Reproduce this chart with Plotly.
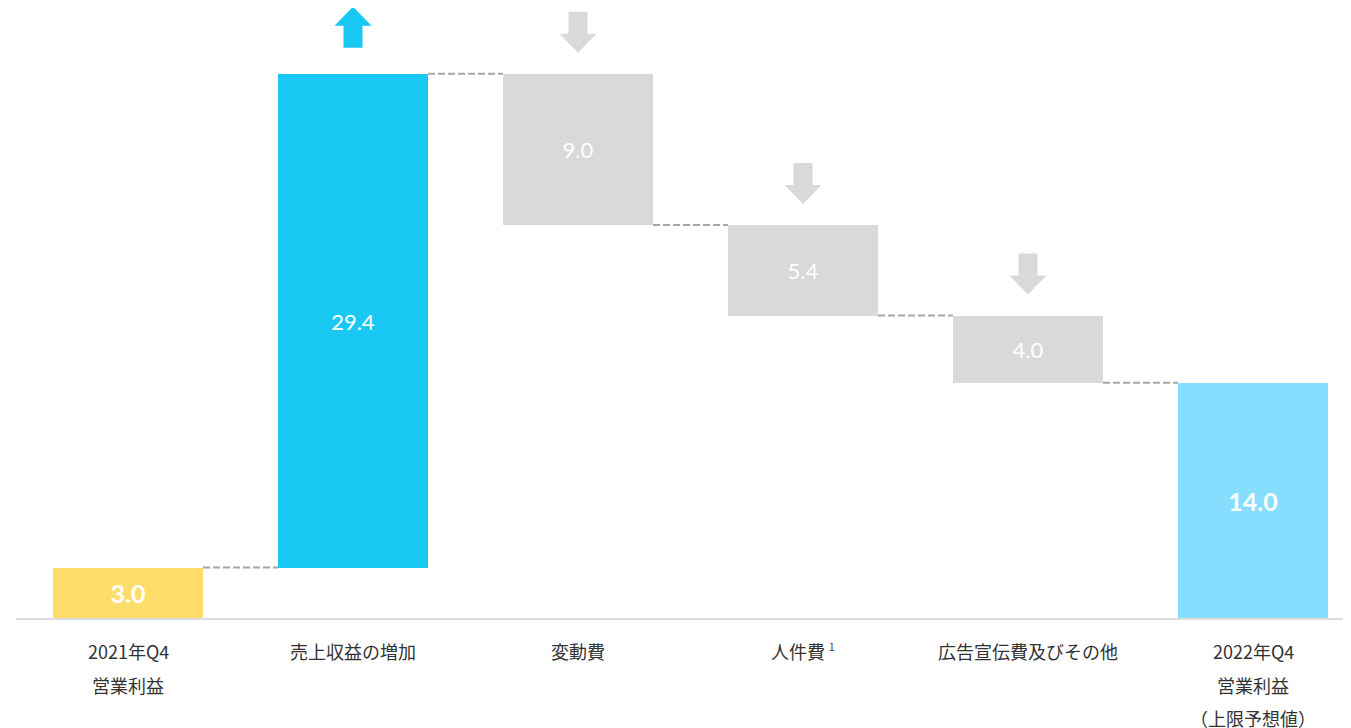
import plotly.graph_objects as go

# ---- data ----
label_lines = [
    ["2021年Q4", "営業利益"],
    ["売上収益の増加"],
    ["変動費"],
    ["人件費 <sup><span style='font-size:10px'>1</span></sup>"],
    ["広告宣伝費及びその他"],
    ["2022年Q4", "営業利益", "（上限予想値）"],
]
start_value = 3.0
changes = [29.4, -9.0, -5.4, -4.0]
end_value = 14.0

# ---- styling ----
C_START = "#FFDD6B"
C_UP = "#19C9F3"
C_DOWN = "#D9D9D9"
C_END = "#86DDFD"
C_CONN = "#A6A6A6"
C_AXIS = "#DCDCDC"
C_TEXT = "#333333"

n = len(label_lines)
xs = list(range(n))
BAR_W = 0.667

bases, heights, colors, levels = [], [], [], []
bases.append(0.0); heights.append(start_value); colors.append(C_START)
level = start_value
levels.append(level)
for c in changes:
    if c >= 0:
        bases.append(level); heights.append(c); colors.append(C_UP)
    else:
        bases.append(level + c); heights.append(-c); colors.append(C_DOWN)
    level = round(level + c, 6)
    levels.append(level)
bases.append(0.0); heights.append(end_value); colors.append(C_END)
levels.append(end_value)

texts = [f"<b>{start_value:.1f}</b>"] + [f"{abs(c):.1f}" for c in changes] + [f"<b>{end_value:.1f}</b>"]
tsizes = [25] + [22] * len(changes) + [25]

fig = go.Figure()
fig.add_trace(go.Bar(
    x=xs, y=heights, base=bases, width=BAR_W,
    marker=dict(color=colors, line=dict(width=0)),
    text=texts, textposition="inside", insidetextanchor="middle",
    textfont=dict(color="white", size=tsizes, family="Lato, Inter, sans-serif"),
    constraintext="none", hoverinfo="skip", showlegend=False,
))

# connectors
for i in range(n - 1):
    lv = levels[i]
    fig.add_trace(go.Scatter(
        x=[xs[i] + BAR_W / 2, xs[i + 1] - BAR_W / 2], y=[lv, lv],
        mode="lines", line=dict(color=C_CONN, width=2, dash="7px,3px"),
        hoverinfo="skip", showlegend=False,
    ))

# arrows above change bars
PX = 16.8          # px per y unit
XPX = 225.0        # px per x unit
sh = 9.5 / XPX     # shaft half width
hh = 18.5 / XPX    # head half width
head_h = 19 / PX
total_h = 41 / PX
shapes = []
for i, c in enumerate(changes, start=1):
    top_of_bar = bases[i] + heights[i]
    x = xs[i]
    if c >= 0:
        b = top_of_bar + 26 / PX
        t = b + total_h
        hb = t - head_h
        path = (f"M {x-sh},{b} L {x+sh},{b} L {x+sh},{hb} L {x+hh},{hb} L {x},{t} "
                f"L {x-hh},{hb} L {x-sh},{hb} Z")
        col = C_UP
    else:
        tip = top_of_bar + 21 / PX
        t = tip + total_h
        hb = tip + head_h
        path = (f"M {x-sh},{t} L {x+sh},{t} L {x+sh},{hb} L {x+hh},{hb} L {x},{tip} "
                f"L {x-hh},{hb} L {x-sh},{hb} Z")
        col = C_DOWN
    shapes.append(dict(type="path", path=path, xref="x", yref="y",
                       fillcolor=col, line=dict(width=0), layer="above"))

# category labels
annotations = []
for i, lines in enumerate(label_lines):
    for j, line in enumerate(lines):
        annotations.append(dict(
            x=xs[i], y=0, xref="x", yref="paper", text=line, showarrow=False,
            xanchor="center", yanchor="middle", yshift=-(33 + 33.5 * j),
            font=dict(size=18, color=C_TEXT, family="Noto Sans CJK JP, sans-serif"),
        ))

# page body has an 8px margin; compensate so marks land where they should
OFF = 8
W, H = 1351 - OFF, 728 - OFF
L = 16 - OFF
plot_w = W - L
x0 = -(128 - 16) / XPX
x1 = x0 + plot_w / XPX
plot_h = 618 - OFF
y1 = plot_h / PX

fig.update_layout(
    width=W, height=H,
    margin=dict(l=L, r=0, t=0, b=H - plot_h),
    paper_bgcolor="white", plot_bgcolor="white",
    xaxis=dict(range=[x0, x1], showticklabels=False, showgrid=False, zeroline=False,
               showline=True, linecolor=C_AXIS, linewidth=2, ticks=""),
    yaxis=dict(range=[0, y1], visible=False, showgrid=False, zeroline=False),
    shapes=shapes, annotations=annotations, bargap=0,
    font=dict(family="Noto Sans CJK JP, sans-serif"),
)

fig.write_html("out.html")
